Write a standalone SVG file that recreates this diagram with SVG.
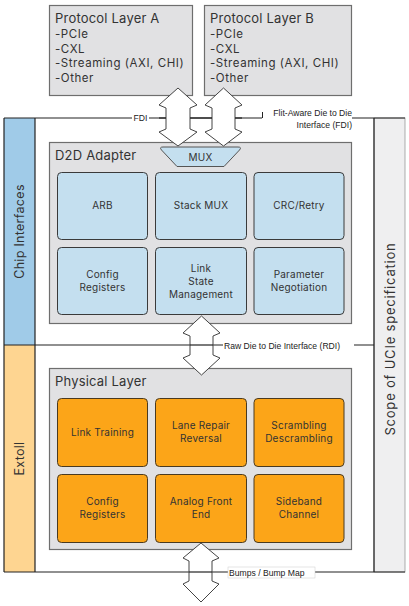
<svg xmlns="http://www.w3.org/2000/svg" width="409" height="606" viewBox="0 0 409 606">
<style>
text{font-family:Inter,"DejaVu Sans",sans-serif;fill:#333}
.gbox{fill:#e1e1e3;stroke:#6e6e6e;stroke-width:1.2}
.bbox{fill:#c4dfef;stroke:#3a3a3a;stroke-width:1}
.obox{fill:#fca518;stroke:#4a3a20;stroke-width:1}
.ttl{font-size:13px;letter-spacing:0.2px}
.lst{font-size:11.5px;letter-spacing:0.55px}
.lbl{font-size:10px;text-anchor:middle;letter-spacing:0.2px}
.sm{font-family:"Liberation Sans",Arial,sans-serif;font-size:8.6px;fill:#222}
.arr{fill:#fff;stroke:#444;stroke-width:1}
.ln{stroke:#222;stroke-width:1.2;fill:none}
.vt{font-size:12.5px;text-anchor:middle;letter-spacing:0.3px}
.vs{font-size:13px;text-anchor:middle;letter-spacing:0.8px}
</style>
<rect width="409" height="606" fill="#fff"/>
<g id="frame">
<rect x="4" y="118" width="31" height="227" fill="#a0cbe8"/>
<rect x="4" y="345" width="31" height="227" fill="#fed591"/>
<rect x="374" y="118" width="31" height="454" fill="#efeff0" stroke="#999" stroke-width="0.8"/>
<line class="ln" x1="4" y1="118" x2="4" y2="572"/>
<line class="ln" x1="35" y1="118" x2="35" y2="572"/>
<line class="ln" x1="374" y1="118" x2="374" y2="572"/>
<line class="ln" x1="4" y1="345" x2="374" y2="345"/>
<line class="ln" x1="4" y1="118" x2="405" y2="118"/>
<line class="ln" x1="4" y1="572" x2="405" y2="572"/>
<text class="vt" transform="translate(23.5 231.5) rotate(-90)">Chip Interfaces</text>
<text class="vt" transform="translate(23.5 458.5) rotate(-90)">Extoll</text>
<text class="vs" transform="translate(394.5 339) rotate(-90)">Scope of UCIe specification</text>
</g>
<g id="protoA">
<rect class="gbox" x="49.5" y="5.5" width="143" height="90"/>
<text class="ttl" x="55" y="23">Protocol Layer A</text>
<text class="lst" x="55" y="38">-PCIe</text>
<text class="lst" x="55" y="52.5">-CXL</text>
<text class="lst" x="55" y="67">-Streaming (AXI, CHI)</text>
<text class="lst" x="55" y="81.5">-Other</text>
</g>
<g id="protoB">
<rect class="gbox" x="204.5" y="5.5" width="147" height="90"/>
<text class="ttl" x="210" y="23">Protocol Layer B</text>
<text class="lst" x="210" y="38">-PCIe</text>
<text class="lst" x="210" y="52.5">-CXL</text>
<text class="lst" x="210" y="67">-Streaming (AXI, CHI)</text>
<text class="lst" x="210" y="81.5">-Other</text>
</g>
<g id="d2d">
<rect class="gbox" x="49.5" y="142.5" width="302" height="181"/>
<text class="ttl" x="55" y="160">D2D Adapter</text>
<path d="M163,147 L238,147 Q242,147 239.5,150 L224,166.5 L177,166.5 L161.5,150 Q159,147 163,147 Z" fill="#c4dfef" stroke="#555" stroke-width="1"/>
<text class="lbl" x="200.5" y="160.5">MUX</text>
<g id="arb"><rect class="bbox" x="57.5" y="172.5" width="90" height="67" rx="4"/><text class="lbl" x="102.5" y="209">ARB</text></g>
<g id="stackmux"><rect class="bbox" x="155.5" y="172.5" width="91" height="67" rx="4"/><text class="lbl" x="201" y="209">Stack MUX</text></g>
<g id="crc"><rect class="bbox" x="254" y="172.5" width="90" height="67" rx="4"/><text class="lbl" x="299" y="209">CRC/Retry</text></g>
<g id="cfg1"><rect class="bbox" x="57.5" y="247.5" width="90" height="67" rx="4"/><text class="lbl" x="102.5" y="278">Config</text><text class="lbl" x="102.5" y="291">Registers</text></g>
<g id="lsm"><rect class="bbox" x="155.5" y="247.5" width="91" height="67" rx="4"/><text class="lbl" x="201" y="272">Link</text><text class="lbl" x="201" y="285">State</text><text class="lbl" x="201" y="298">Management</text></g>
<g id="param"><rect class="bbox" x="254" y="247.5" width="90" height="67" rx="4"/><text class="lbl" x="299" y="278">Parameter</text><text class="lbl" x="299" y="291">Negotiation</text></g>
</g>
<g id="phy">
<rect class="gbox" x="49.5" y="368.5" width="302" height="181"/>
<text class="ttl" x="55" y="386">Physical Layer</text>
<g id="lt"><rect class="obox" x="57.5" y="398.5" width="90" height="68" rx="4"/><text class="lbl" x="102.5" y="436">Link Training</text></g>
<g id="lr"><rect class="obox" x="155.5" y="398.5" width="91" height="68" rx="4"/><text class="lbl" x="201" y="429">Lane Repair</text><text class="lbl" x="201" y="442">Reversal</text></g>
<g id="scr"><rect class="obox" x="254" y="398.5" width="90" height="68" rx="4"/><text class="lbl" x="299" y="429">Scrambling</text><text class="lbl" x="299" y="442">Descrambling</text></g>
<g id="cfg2"><rect class="obox" x="57.5" y="474.5" width="90" height="68" rx="4"/><text class="lbl" x="102.5" y="505">Config</text><text class="lbl" x="102.5" y="518">Registers</text></g>
<g id="afe"><rect class="obox" x="155.5" y="474.5" width="91" height="68" rx="4"/><text class="lbl" x="201" y="505">Analog Front</text><text class="lbl" x="201" y="518">End</text></g>
<g id="sb"><rect class="obox" x="254" y="474.5" width="90" height="68" rx="4"/><text class="lbl" x="299" y="505">Sideband</text><text class="lbl" x="299" y="518">Channel</text></g>
</g>
<g id="connectors">
<polygon class="arr" points="178,88 197,105 190,108 190,129 197,132 178,146 159,132 166,129 166,108 159,105"/>
<polygon class="arr" points="223.5,88 242,105 235,108 235,129 242,132 223.5,146 205,132 212,129 212,108 205,105"/>
<polygon class="arr" points="201.5,316 220,333 213,336 213,355 220,358 201.5,375 183,358 190,355 190,336 183,333"/>
<polygon class="arr" points="201,543 219,558 212,561 212,581 219,584 201,602 183,584 189,581 189,561 183,558"/>
<line class="ln" x1="159" y1="118" x2="166" y2="118" stroke-width="1"/>
<line class="ln" x1="190" y1="118" x2="212" y2="118" stroke-width="1"/>
<line class="ln" x1="235" y1="118" x2="242" y2="118" stroke-width="1"/>
<line class="ln" x1="190" y1="345" x2="213" y2="345" stroke-width="1"/>
<line class="ln" x1="189" y1="572" x2="212" y2="572" stroke-width="1"/>
<rect x="132" y="113" width="17" height="10" fill="#fff"/>
<text class="sm" x="140.5" y="121" text-anchor="middle">FDI</text>
<rect x="262" y="107" width="90" height="23" fill="#fff"/>
<line x1="262.5" y1="112" x2="262.5" y2="118" stroke="#222" stroke-width="1"/>
<text class="sm" x="352" y="116" text-anchor="end">Flit-Aware Die to Die</text>
<text class="sm" x="352" y="128" text-anchor="end">Interface (FDI)</text>
<rect x="223" y="340" width="131" height="11" fill="#fff"/>
<text class="sm" x="224" y="348.5">Raw Die to Die Interface (RDI)</text>
<rect x="228" y="567" width="87" height="11" fill="#fff" stroke="#ccc" stroke-width="0.5"/>
<text class="sm" x="229" y="575.5">Bumps / Bump Map</text>
</g>
</svg>
